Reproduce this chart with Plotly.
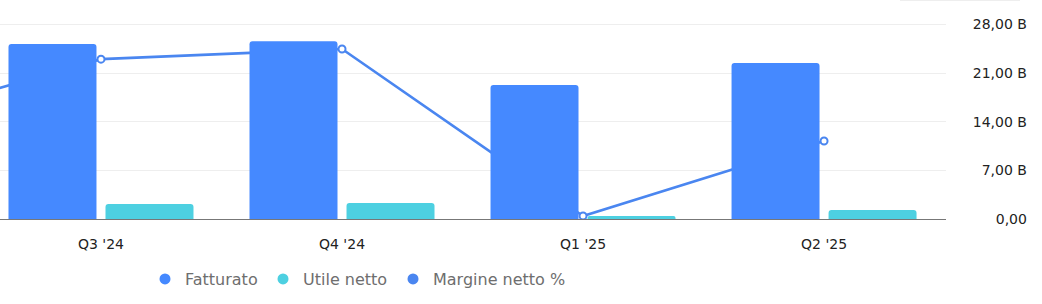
import plotly.graph_objects as go

# ---- data ----
categories = ["Q2 '24", "Q3 '24", "Q4 '24", "Q1 '25", "Q2 '25"]
fatturato_b = [None, 25.20, 25.58, 19.29, 22.46]      # billions
utile_netto_b = [None, 2.16, 2.30, 0.43, 1.30]        # billions
margine_pct = [5.80, 8.58, 8.99, 2.24, 5.27]          # percent

y_tickvals = [0, 7, 14, 21, 28]
y_ticktext = ["0,00", "7,00 B", "14,00 B", "21,00 B", "28,00 B"]

C_FATT = "#4589FF"
C_UTILE = "#4DD0E1"
C_MARG = "#4A86F0"
FONT = "DejaVu Sans"

fig = go.Figure()

# line on the base axis (drawn behind the bars)
fig.add_trace(go.Scatter(
    x=categories, y=margine_pct, name="Margine netto %", yaxis="y",
    mode="lines+markers", showlegend=False,
    line=dict(color=C_MARG, width=2.6),
    marker=dict(symbol="circle", size=7, color="white",
                line=dict(color=C_MARG, width=2)),
    cliponaxis=True,
))

# bars on the overlaying axis
fig.add_trace(go.Bar(x=categories, y=fatturato_b, name="Fatturato", yaxis="y2",
                     marker=dict(color=C_FATT, line=dict(width=0)), showlegend=False))
fig.add_trace(go.Bar(x=categories, y=utile_netto_b, name="Utile netto", yaxis="y2",
                     marker=dict(color=C_UTILE, line=dict(width=0)), showlegend=False))

# legend entries (round dots)
for name, col, lw in [("Fatturato", C_FATT, 73), ("Utile netto", C_UTILE, 85),
                      ("Margine netto %", C_MARG, 150)]:
    fig.add_trace(go.Scatter(x=[None], y=[None], mode="markers", name=name,
                             marker=dict(symbol="circle", size=11, color=col),
                             legendwidth=lw, showlegend=True))

fig.update_layout(
    width=1042, height=304,
    margin=dict(l=0, r=0, t=0, b=85),
    paper_bgcolor="white", plot_bgcolor="white",
    barmode="group", bargap=0.195, bargroupgap=0.093,
    barcornerradius=3,
    font=dict(family=FONT, size=14, color="#222222"),
    xaxis=dict(domain=[0, 946 / 1042], type="category",
               range=[0.581, 4.506], showgrid=False,
               showline=True, linecolor="#777777", linewidth=1,
               ticks="", ticklabelstandoff=12,
               tickfont=dict(size=14, color="#222222"),
               fixedrange=True),
    yaxis=dict(range=[2.12, 10.97], visible=False, showgrid=False, zeroline=False),
    yaxis2=dict(overlaying="y", anchor="free", side="left", position=0.9855,
                range=[0, 31.53], tickvals=y_tickvals, ticktext=y_ticktext,
                showgrid=True, gridcolor="#EEEEEE", gridwidth=1,
                zeroline=False, showline=False, ticks="",
                tickfont=dict(size=14, color="#222222")),
    legend=dict(orientation="h", x=(165 - 20) / 1042, xanchor="left",
                y=-(279 - 219) / 219, yanchor="middle",
                font=dict(family=FONT, size=16, color="#6E6E6E"),
                bgcolor="rgba(0,0,0,0)", itemclick=False),
    shapes=[dict(type="line", xref="paper", yref="paper",
                 x0=900 / 1042, x1=1020 / 1042, y0=1 - 0.5 / 219, y1=1 - 0.5 / 219,
                 line=dict(color="#EEEEEE", width=1))],
)

fig.write_html("out.html")
